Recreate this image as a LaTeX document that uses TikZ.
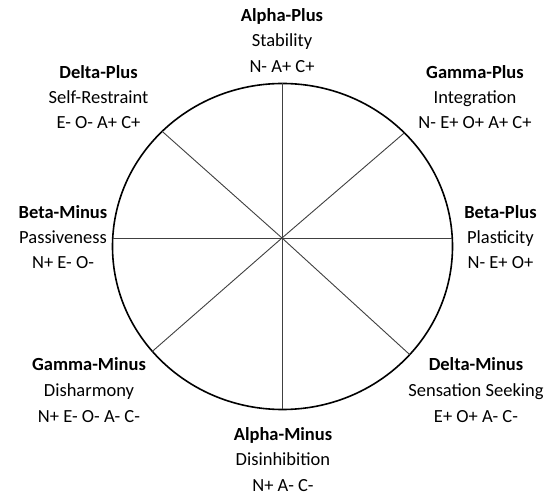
\documentclass[tikz,border=0pt]{standalone}
\usepackage{fontspec}
\setmainfont{Carlito}
\begin{document}
\begin{tikzpicture}[x=1pt,y=-1pt,
  lab/.style={inner sep=0pt, anchor=base, font=\fontsize{18.5}{22}\selectfont},
  ttl/.style={inner sep=0pt, anchor=base, font=\fontsize{18.5}{22}\selectfont\bfseries},
  rim/.style={line width=1.6pt, black},
  spoke/.style={line width=0.9pt, black!75}]
\useasboundingbox[fill=white] (0,0) rectangle (555,497);
% circle
\coordinate (e) at (282.5,246.5);
\draw[rim] (e) ellipse [x radius=170pt, y radius=163pt];
% spokes
\coordinate (c) at (282,238);
\coordinate (pt) at (282,83.5);
\coordinate (pb) at (282,409.5);
\coordinate (pl) at (112.7,238);
\coordinate (pr) at (452.3,238);
\coordinate (pul) at (162.1,131.3);
\coordinate (pur) at (404.4,132.8);
\coordinate (pll) at (152.3,351.4);
\coordinate (plr) at (409.7,354.6);
\foreach \p in {pt,pb,pl,pr,pul,pur,pll,plr}
  \draw[spoke] (c) -- (\p);
% labels
\node[ttl] (ap1) at (282,21.5) {Alpha-Plus};
\node[lab] (ap2) at (282,47) {Stability};
\node[lab] (ap3) at (282,72.5) {N- A+ C+};
\node[ttl] (dp1) at (98.5,79) {Delta-Plus};
\node[lab] (dp2) at (98.5,104) {Self-Restraint};
\node[lab] (dp3) at (98.5,129) {E- O- A+ C+};
\node[ttl] (gp1) at (475,79) {Gamma-Plus};
\node[lab] (gp2) at (475,104) {Integration};
\node[lab] (gp3) at (475,129) {N- E+ O+ A+ C+};
\node[ttl] (bm1) at (63,218.5) {Beta-Minus};
\node[lab] (bm2) at (63,243.5) {Passiveness};
\node[lab] (bm3) at (63,268.5) {N+ E- O-};
\node[ttl] (bp1) at (500.5,218.5) {Beta-Plus};
\node[lab] (bp2) at (500.5,243.5) {Plasticity};
\node[lab] (bp3) at (500.5,268.5) {N- E+ O+};
\node[ttl] (gm1) at (89,371) {Gamma-Minus};
\node[lab] (gm2) at (89,397) {Disharmony};
\node[lab] (gm3) at (89,423) {N+ E- O- A- C-};
\node[ttl] (dm1) at (476,371) {Delta-Minus};
\node[lab] (dm2) at (476,397) {Sensation Seeking};
\node[lab] (dm3) at (476,423) {E+ O+ A- C-};
\node[ttl] (am1) at (283,440) {Alpha-Minus};
\node[lab] (am2) at (283,465) {Disinhibition};
\node[lab] (am3) at (283,491) {N+ A- C-};
\end{tikzpicture}
\end{document}
